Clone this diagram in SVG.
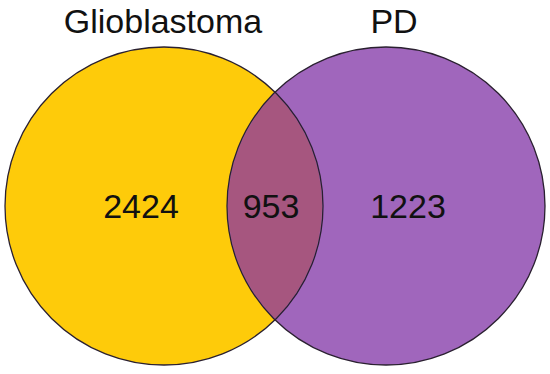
<svg xmlns="http://www.w3.org/2000/svg" width="550" height="374" viewBox="0 0 550 374">
<style>
text{font-family:"Liberation Sans",Arial,sans-serif;font-size:34px;fill:#111;text-anchor:middle}
.edge{fill:none;stroke:#2a2030;stroke-width:1.3}
</style>
<rect width="550" height="374" fill="#fff"/>
<g id="glioblastoma">
<circle cx="164" cy="206" r="159" fill="#FECB0A"/>
</g>
<g id="pd">
<circle cx="386" cy="206" r="159" fill="#A066BC"/>
</g>
<g id="overlap">
<path d="M275,93 A159,159 0 0 1 275,319 A159,159 0 0 1 275,93 Z" fill="#A6567F"/>
</g>
<g id="outlines">
<circle class="edge" cx="164" cy="206" r="159"/>
<circle class="edge" cx="386" cy="206" r="159"/>
</g>
<g id="labels">
<text x="163" y="33">Glioblastoma</text>
<text x="394" y="33">PD</text>
<text x="141" y="218">2424</text>
<text x="271" y="218">953</text>
<text x="408" y="218">1223</text>
</g>
</svg>
